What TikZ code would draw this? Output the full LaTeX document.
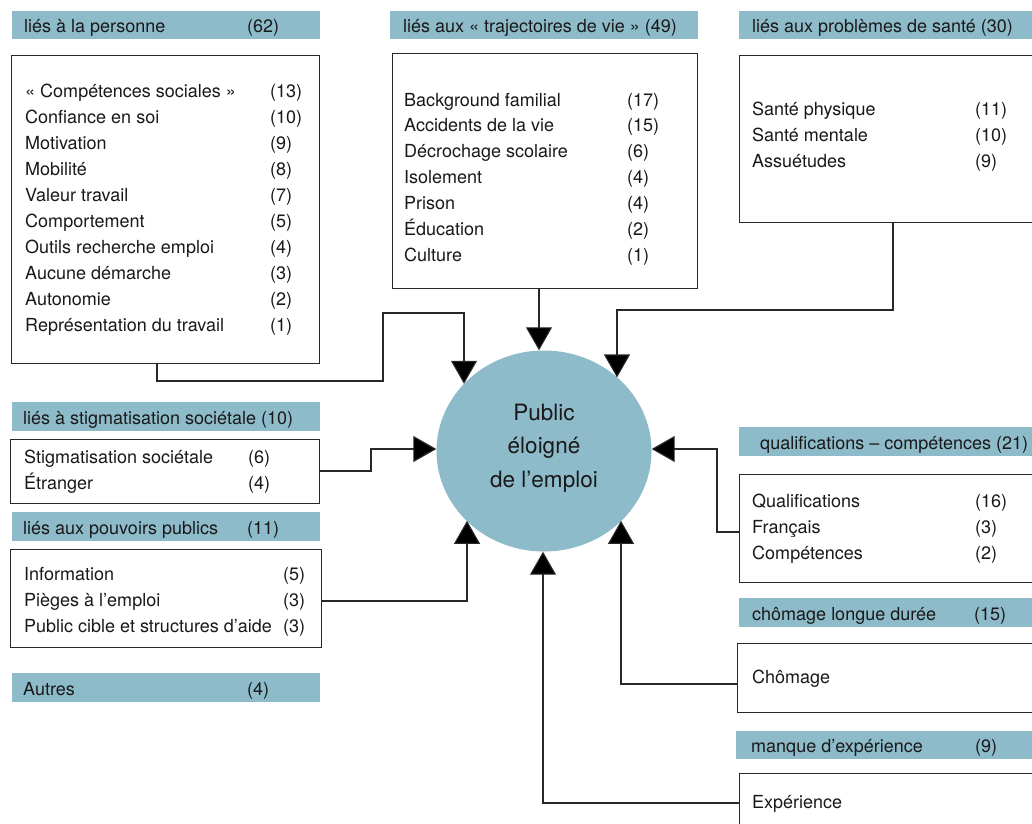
\documentclass[tikz,border=0pt]{standalone}
\usepackage{fontspec}
\setmainfont{texgyreheros-regular.otf}
\usetikzlibrary{arrows.meta,shapes.geometric}
\definecolor{hdr}{RGB}{142,187,202}
\definecolor{ln}{RGB}{40,40,40}
\tikzset{
  hbar/.style={fill=hdr, draw=none, anchor=north west, inner sep=0, minimum height=28pt},
  box/.style={draw=ln, line width=1.1pt, anchor=north west, inner sep=0},
  txt/.style={anchor=base west, inner sep=0, font=\fontsize{18}{21}\selectfont, text=black!90},
  big/.style={anchor=base, inner sep=0, font=\fontsize{22.5}{34}\selectfont, text=black!90},
  con/.style={draw=ln, line width=1.1pt},
  arr/.style={con, -{Triangle[length=23pt,width=26pt,fill=black]}},
}
\begin{document}
\begin{tikzpicture}[x=1pt,y=-1pt]
\clip (0,0) rectangle (1032,823);
\fill[white] (0,0) rectangle (1032,823);

% header bars
\node[hbar, minimum width=308pt] (h1) at (12,11) {};
\node[hbar, minimum width=308pt] (h2) at (390,11) {};
\node[hbar, minimum width=300pt] (h3) at (739,11) {};
\node[hbar, minimum width=308pt, minimum height=29pt] (h4) at (12,402) {};
\node[hbar, minimum width=308pt, minimum height=29pt] (h5) at (12,512) {};
\node[hbar, minimum width=308pt, minimum height=29pt] (h6) at (12,673) {};
\node[hbar, minimum width=300pt, minimum height=29pt] (h7) at (739,427) {};
\node[hbar, minimum width=300pt, minimum height=29pt] (h8) at (739,598) {};
\node[hbar, minimum width=300pt] (h9) at (736,731) {};

\node[txt] (h1t) at (24,32.5) {liés à la personne};
\node[txt] (h1n) at (247,32.5) {(62)};
\node[txt] (h2t) at (403,32.5) {liés aux « trajectoires de vie » (49)};
\node[txt] (h3t) at (752,32.5) {liés aux problèmes de santé (30)};
\node[txt] (h4t) at (23,424.5) {liés à stigmatisation sociétale (10)};
\node[txt] (h5t) at (23,534.5) {liés aux pouvoirs publics};
\node[txt] (h5n) at (247,534.5) {(11)};
\node[txt] (h6t) at (23,695.5) {Autres};
\node[txt] (h6n) at (247,695.5) {(4)};
\node[txt] (h7t) at (760,449.5) {qualifications – compétences (21)};
\node[txt] (h8t) at (752,620.5) {chômage longue durée};
\node[txt] (h8n) at (974,620.5) {(15)};
\node[txt] (h9t) at (751,752.5) {manque d’expérience};
\node[txt] (h9n) at (975,752.5) {(9)};

% boxes
\node[box, minimum width=308pt, minimum height=308pt] (b1) at (11,55) {};
\node[box, minimum width=305pt, minimum height=235pt] (b2) at (392,53) {};
\node[box, minimum width=320pt, minimum height=167pt] (b3) at (739,55) {};
\node[box, minimum width=309pt, minimum height=64pt] (b4) at (10,439) {};
\node[box, minimum width=311pt, minimum height=98pt] (b5) at (10,549) {};
\node[box, minimum width=320pt, minimum height=108pt] (b6) at (739,474) {};
\node[box, minimum width=320pt, minimum height=69pt] (b7) at (737,643) {};
\node[box, minimum width=320pt, minimum height=80pt] (b8) at (739,773) {};

% box contents
\foreach \t/\n [count=\i] in {{« Compétences sociales »}/(13), Confiance en soi/(10), Motivation/(9), Mobilité/(8), Valeur travail/(7), Comportement/(5), Outils recherche emploi/(4), Aucune démarche/(3), Autonomie/(2), Représentation du travail/(1)}{
  \node[txt] (p\i) at (25,{97+26*(\i-1)}) {\t};
  \node[txt] (pn\i) at (270,{97+26*(\i-1)}) {\n};
}
\foreach \t/\n [count=\i] in {Background familial/(17), Accidents de la vie/(15), Décrochage scolaire/(6), Isolement/(4), Prison/(4), Éducation/(2), Culture/(1)}{
  \node[txt] (t\i) at (404,{106+25.9*(\i-1)}) {\t};
  \node[txt] (tn\i) at (627,{106+25.9*(\i-1)}) {\n};
}
\foreach \t/\n [count=\i] in {Santé physique/(11), Santé mentale/(10), Assuétudes/(9)}{
  \node[txt] (s\i) at (752,{115+26*(\i-1)}) {\t};
  \node[txt] (sn\i) at (975,{115+26*(\i-1)}) {\n};
}
\foreach \t/\n [count=\i] in {Stigmatisation sociétale/(6), Étranger/(4)}{
  \node[txt] (g\i) at (24,{463+26*(\i-1)}) {\t};
  \node[txt] (gn\i) at (248,{463+26*(\i-1)}) {\n};
}
\foreach \t/\n [count=\i] in {Information/(5), Pièges à l’emploi/(3), Public cible et structures d’aide/(3)}{
  \node[txt] (v\i) at (24,{580+26*(\i-1)}) {\t};
  \node[txt] (vn\i) at (283,{580+26*(\i-1)}) {\n};
}
\foreach \t/\n [count=\i] in {Qualifications/(16), Français/(3), Compétences/(2)}{
  \node[txt] (q\i) at (752,{507+26*(\i-1)}) {\t};
  \node[txt] (qn\i) at (975,{507+26*(\i-1)}) {\n};
}
\node[txt] (c1) at (752,683) {Chômage};
\node[txt] (e1) at (752,808) {Expérience};

% central ellipse
\node[ellipse, fill=hdr, draw=none, inner sep=0, minimum width=215pt, minimum height=201pt] (circ) at (544,451) {};
\node[big] (ct1) at (544,420) {Public};
\node[big] (ct2) at (544,453) {éloigné};
\node[big] (ct3) at (544,487) {de l’emploi};

% connector coordinates
\coordinate (k1a) at (157,381);
\coordinate (k1b) at (383,381);
\coordinate (k1c) at (383,313);
\coordinate (k1d) at (464,313);
\coordinate (k2) at (539,300);
\coordinate (k3a) at (893,310);
\coordinate (k3b) at (617,310);
\coordinate (k4a) at (371,471);
\coordinate (k4b) at (371,449);
\coordinate (k5) at (467,601);
\coordinate (k6a) at (717,532);
\coordinate (k6b) at (717,449);
\coordinate (k7) at (621,684);
\coordinate (k8) at (543,803);

\draw[arr] (b1.south -| k1a) -- (k1a) -- (k1b) -- (k1c) -- (k1d) -- (circ.140 -| k1d);
\draw[arr] (b2.south -| k2) -- (circ.north -| k2);
\draw[arr] (b3.south -| k3a) -- (k3a) -- (k3b) -- (circ.45 -| k3b);
\draw[arr] (b4.east |- k4a) -- (k4a) -- (k4b) -- (circ.west |- k4b);
\draw[arr] (b5.east |- k5) -- (k5) -- (circ.222 -| k5);
\draw[arr] (b6.west |- k6a) -- (k6a) -- (k6b) -- (circ.east |- k6b);
\draw[arr] (b7.west |- k7) -- (k7) -- (circ.318 -| k7);
\draw[arr] (b8.west |- k8) -- (k8) -- (circ.south -| k8);
\end{tikzpicture}
\end{document}
